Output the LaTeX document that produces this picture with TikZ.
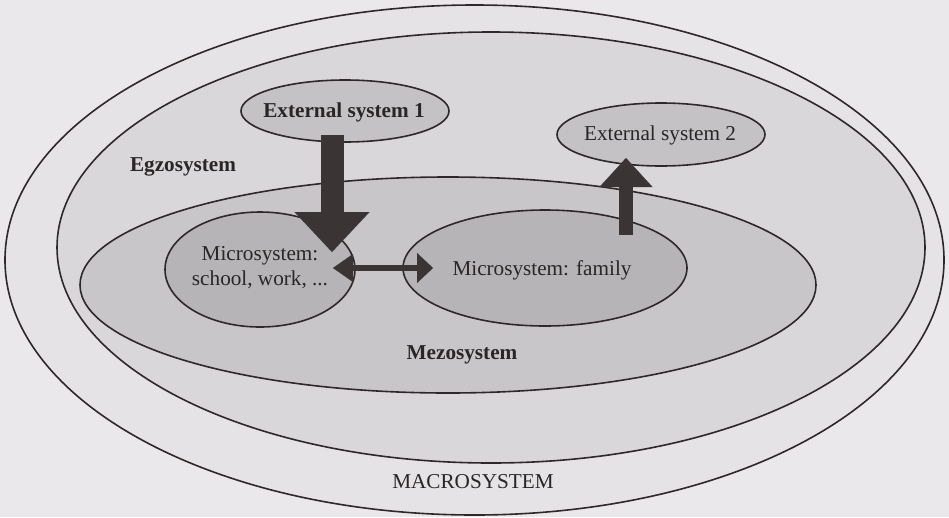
\documentclass[tikz,border=0pt]{standalone}
\usepackage{fontspec}
\setmainfont{Liberation Serif}
\usetikzlibrary{shapes.geometric,arrows.meta}
\definecolor{bgc}{RGB}{234,232,234}
\definecolor{macroc}{RGB}{229,227,229}
\definecolor{exoc}{RGB}{217,215,217}
\definecolor{mezoc}{RGB}{200,198,200}
\definecolor{microc}{RGB}{182,180,182}
\definecolor{extc}{RGB}{196,194,196}
\definecolor{linec}{RGB}{48,40,40}
\definecolor{arrowc}{RGB}{58,52,52}
\definecolor{textc}{RGB}{42,38,38}
\begin{document}
\begin{tikzpicture}[x=1pt,y=-1pt,
  sys/.style={ellipse, draw=linec, line width=1.6pt, inner sep=0pt},
  lbl/.style={text=textc, font=\fontsize{21.2}{25}\selectfont, align=center, inner sep=0pt},
  blbl/.style={lbl, font=\fontsize{21.2}{25}\selectfont\bfseries},
  bigarrow/.style={draw=arrowc, fill=arrowc}]
\fill[bgc] (0,0) rectangle (949,517);
\useasboundingbox (0,0) rectangle (949,517);
% nested systems
\node[sys, fill=macroc, minimum width=939pt, minimum height=510pt] (macro) at (474.5,260) {};
\node[sys, fill=exoc, minimum width=868pt, minimum height=431pt] (exo) at (491,247.5) {};
\node[sys, fill=mezoc, minimum width=736pt, minimum height=216pt] (mezo) at (448,285) {};
\node[sys, fill=microc, minimum width=190pt, minimum height=115pt] (school) at (260,269.5) {};
\node[sys, fill=microc, minimum width=284pt, minimum height=116pt] (family) at (545,268) {};
\node[sys, fill=extc, minimum width=208pt, minimum height=62pt] (ext1) at (345,111) {};
\node[sys, fill=extc, minimum width=208pt, minimum height=63pt] (ext2) at (661,134.5) {};
% texts
\node[blbl] (tegzo) at (183,167) {Egzosystem};
\node[blbl] (tmezo) at (462,355) {Mezosystem};
\node[lbl] (tmacro) at (473,482) {MACROSYSTEM};
\node[blbl] (text1) at (344,112) {External system 1};
\node[lbl] (text2) at (660,135) {External system 2};
\node[lbl] (tschool) at (260,268) {Microsystem:\\school, work, ...};
\node[lbl] (tfamily) at (542,270) {Microsystem: family};
% arrows
\coordinate (a1s) at (332,135);
\coordinate (a1e) at (332,252);
\coordinate (a2s) at (626,235);
\coordinate (a2e) at (626,158);
\coordinate (dl) at (333,268);
\coordinate (dr) at (433,268);
\draw[arrowc, line width=23pt, -{Triangle[length=40pt,width=75pt,line width=0.1pt]}] (a1s) -- (a1e);
\draw[arrowc, line width=14pt, -{Triangle[length=29pt,width=53pt,line width=0.1pt]}] (a2s) -- (a2e);
\draw[arrowc, line width=6pt, {Triangle[length=20pt,width=28pt,line width=0.1pt]}-{Triangle[length=16pt,width=30pt,line width=0.1pt]}] (dl) -- (dr);
\end{tikzpicture}
\end{document}
